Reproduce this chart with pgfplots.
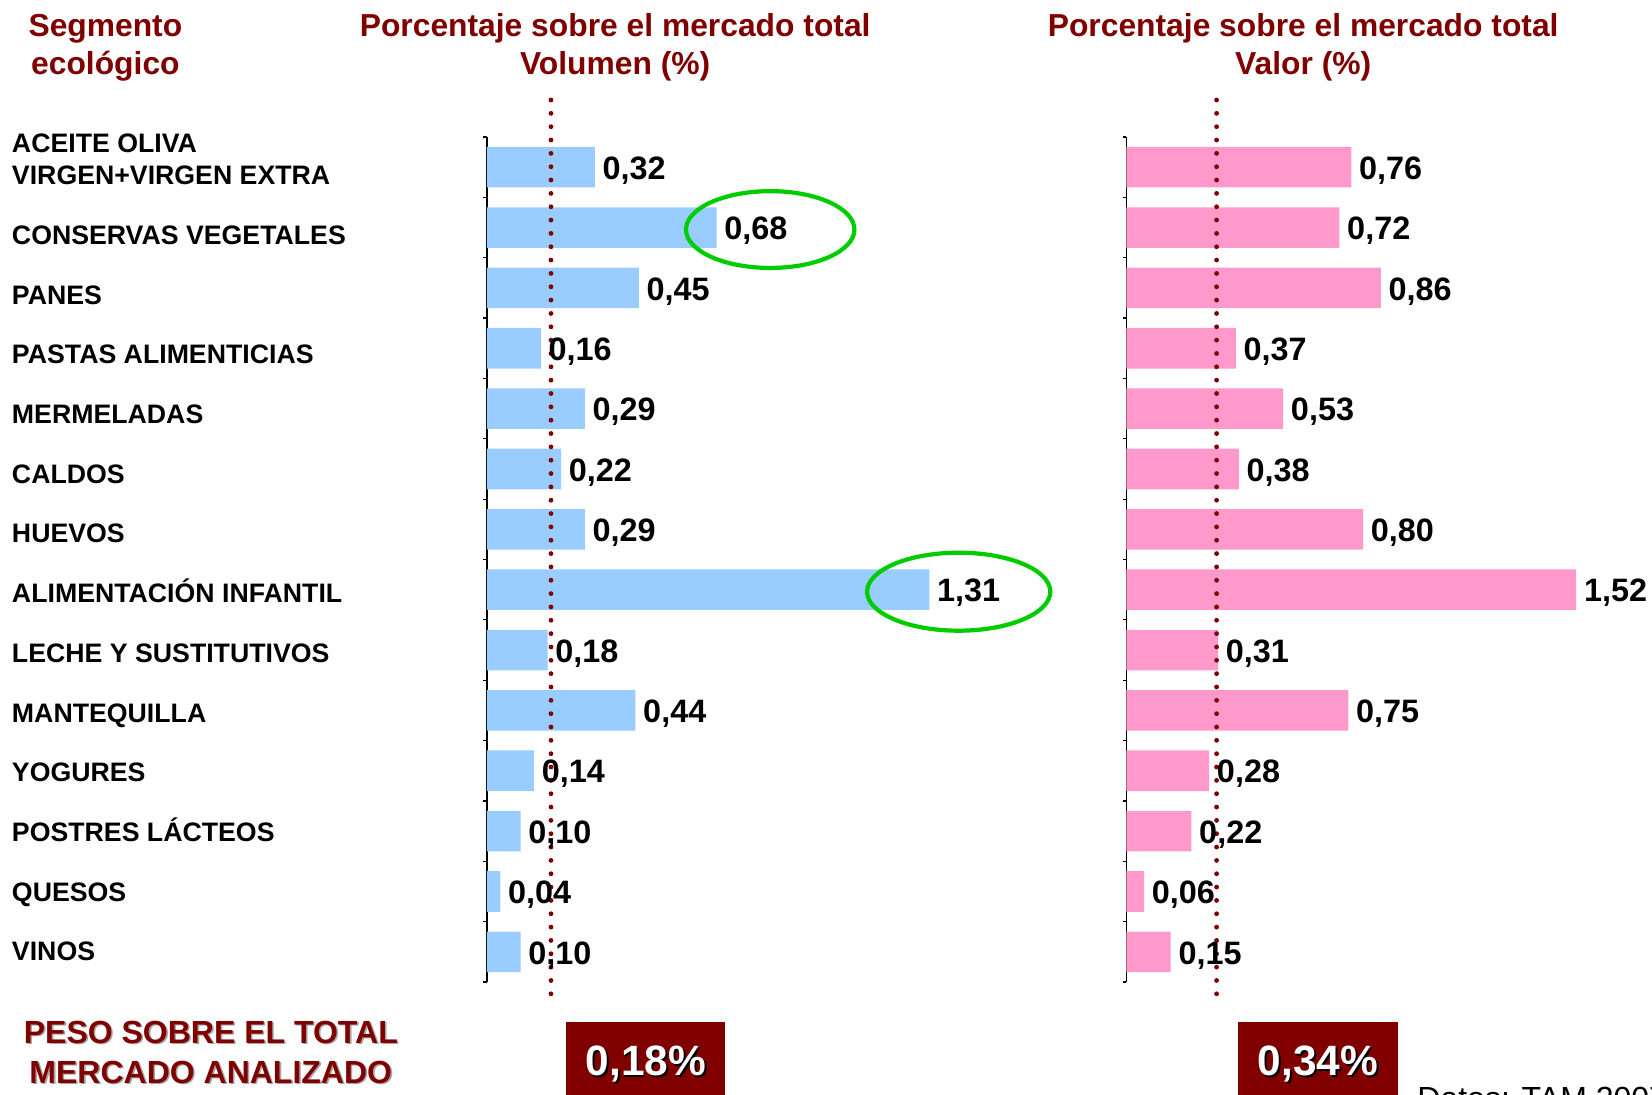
\documentclass[border=0pt]{standalone}
\usepackage{pgfplots}
\pgfplotsset{compat=1.18}
\usepackage{fontspec}
\setmainfont{Liberation Sans}
\definecolor{dred}{HTML}{800000}
\definecolor{lblue}{HTML}{99CCFF}
\definecolor{lpink}{HTML}{FF99CC}
\definecolor{lgreen}{HTML}{00CC00}
\pgfplotsset{
 mybars/.style={
  xbar, scale only axis, clip=false,
  y dir=reverse, ymin=-0.5, ymax=13.5,
  xmin=0,
  height=422.5bp,
  bar width=20.3bp,
  axis x line=none,
  axis y line=left,
  axis line style={-},
  y axis line style={-, line width=0.7bp, black},
  ytick={-0.5,0.5,...,13.5},
  yticklabels={},
  major tick length=1.7bp,
  tick align=outside,
  tick style={black, line width=0.6bp},
  point meta=x,
  /pgf/number format/assume math mode=true,
  nodes near coords={\pgfmathprintnumber[fixed,fixed zerofill,precision=2,use comma]{\pgfplotspointmeta}},
  nodes near coords style={anchor=base west, inner sep=0pt, xshift=3.7bp, yshift=-6.1bp, font=\fontsize{16.2bp}{18bp}\selectfont\bfseries, text=black},
 },
}
\tikzset{
 refdots/.style={dred, line width=2.4bp, line cap=round, dash pattern=on 0pt off 6.67bp},
 ttl/.style={anchor=base, inner sep=0pt, text=dred, font=\fontsize{15.9bp}{19bp}\selectfont\bfseries},
 cat/.style={anchor=base west, inner sep=0pt, text=black, font=\fontsize{13.35bp}{15bp}\selectfont\bfseries},
}
\begin{document}
\begin{tikzpicture}
\useasboundingbox (0,0) rectangle (826bp,-547.5bp);
% titles
\node[ttl] at (52.7bp,-18.4bp) {Segmento};
\node[ttl] at (52.7bp,-37.4bp) {ecológico};
\node[ttl] at (307.6bp,-18.4bp) {Porcentaje sobre el mercado total};
\node[ttl] at (307.6bp,-37.4bp) {Volumen (\%)};
\node[ttl] at (651.6bp,-18.4bp) {Porcentaje sobre el mercado total};
\node[ttl] at (651.6bp,-37.4bp) {Valor (\%)};
% category labels
\node[cat] at (5.8bp,-76.40bp) {ACEITE OLIVA};
\node[cat] at (5.8bp,-92.21bp) {VIRGEN+VIRGEN EXTRA};
\node[cat] at (5.8bp,-122.24bp) {CONSERVAS VEGETALES};
\node[cat] at (5.8bp,-152.09bp) {PANES};
\node[cat] at (5.8bp,-181.94bp) {PASTAS ALIMENTICIAS};
\node[cat] at (5.8bp,-211.79bp) {MERMELADAS};
\node[cat] at (5.8bp,-241.65bp) {CALDOS};
\node[cat] at (5.8bp,-271.49bp) {HUEVOS};
\node[cat] at (5.8bp,-301.35bp) {ALIMENTACIÓN INFANTIL};
\node[cat] at (5.8bp,-331.20bp) {LECHE Y SUSTITUTIVOS};
\node[cat] at (5.8bp,-361.05bp) {MANTEQUILLA};
\node[cat] at (5.8bp,-390.90bp) {YOGURES};
\node[cat] at (5.8bp,-420.75bp) {POSTRES LÁCTEOS};
\node[cat] at (5.8bp,-450.61bp) {QUESOS};
\node[cat] at (5.8bp,-480.46bp) {VINOS};

\begin{axis}[mybars, at={(243.4bp,-68.5bp)}, anchor=north west, width=236.46bp, xmax=1.4]
\addplot[fill=lblue, draw=none] coordinates {
 (0.32,0) (0.68,1) (0.45,2) (0.16,3) (0.29,4) (0.22,5) (0.29,6)
 (1.31,7) (0.18,8) (0.44,9) (0.14,10) (0.10,11) (0.04,12) (0.10,13)};
\draw[refdots] (axis cs:0.19,-1.113) -- (axis cs:0.19,13.76);
\draw[lgreen, line width=2.1bp] ([yshift=-1bp]axis cs:0.839,1) ellipse [x radius=42.1bp, y radius=19.2bp];
\draw[lgreen, line width=2.1bp] ([yshift=-1bp]axis cs:1.397,7) ellipse [x radius=45.8bp, y radius=19.5bp];
\end{axis}

\begin{axis}[mybars, at={(563.15bp,-68.5bp)}, anchor=north west, width=236.8bp, xmax=1.6]
\addplot[fill=lpink, draw=none] coordinates {
 (0.76,0) (0.72,1) (0.86,2) (0.37,3) (0.53,4) (0.38,5) (0.80,6)
 (1.52,7) (0.31,8) (0.75,9) (0.28,10) (0.22,11) (0.06,12) (0.15,13)};
\draw[refdots] (axis cs:0.305,-1.113) -- (axis cs:0.305,13.76);
\end{axis}

% bottom
\begin{scope}[every node/.style={anchor=base, inner sep=0pt, font=\fontsize{16bp}{19bp}\selectfont\bfseries}]
\node[text=black!35] at (106.2bp,-522.3bp) {PESO SOBRE EL TOTAL};
\node[text=black!35] at (106.2bp,-542.3bp) {MERCADO ANALIZADO};
\node[text=dred] at (105.4bp,-521.5bp) {PESO SOBRE EL TOTAL};
\node[text=dred] at (105.4bp,-541.5bp) {MERCADO ANALIZADO};
\end{scope}
\fill[dred] (282.9bp,-511bp) rectangle (362.45bp,-560bp);
\fill[dred] (619bp,-511bp) rectangle (699bp,-560bp);
\begin{scope}[every node/.style={anchor=base, inner sep=0pt, font=\fontsize{21.2bp}{24bp}\selectfont\bfseries}]
\node[text=black] at (323.8bp,-538.8bp) {0,18\%};
\node[text=white] at (322.9bp,-537.9bp) {0,18\%};
\node[text=black] at (659.9bp,-538.8bp) {0,34\%};
\node[text=white] at (659bp,-537.9bp) {0,34\%};
\end{scope}
\node[anchor=base west, inner sep=0pt, font=\fontsize{16bp}{18bp}\selectfont] at (708.5bp,-554.6bp) {Datos: TAM 2007};
\end{tikzpicture}
\end{document}
